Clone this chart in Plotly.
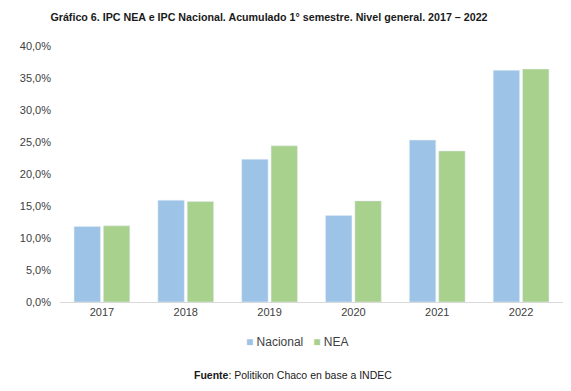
import plotly.graph_objects as go

years = ["2017", "2018", "2019", "2020", "2021", "2022"]
nacional = [11.8, 15.9, 22.3, 13.5, 25.3, 36.2]
nea = [11.9, 15.7, 24.4, 15.8, 23.6, 36.4]
y_ticks = [0, 5, 10, 15, 20, 25, 30, 35, 40]
y_tick_labels = ["0,0%", "5,0%", "10,0%", "15,0%", "20,0%", "25,0%", "30,0%", "35,0%", "40,0%"]
series_names = ["Nacional", "NEA"]
series_colors = ["#9DC3E6", "#A9D18E"]

FONT = "Liberation Sans, Arial, sans-serif"

fig = go.Figure()
fig.add_trace(go.Bar(x=years, y=nacional, name=series_names[0], marker=dict(color=series_colors[0])))
fig.add_trace(go.Bar(x=years, y=nea, name=series_names[1], marker=dict(color=series_colors[1])))

legend_text = "&nbsp;&nbsp;&nbsp;".join(
    f"<span style='color:{c}'>■</span> {n}" for n, c in zip(series_names, series_colors)
)

fig.update_layout(
    width=571, height=391,
    margin=dict(l=60, r=8, t=46, b=89, autoexpand=False),
    paper_bgcolor="white", plot_bgcolor="white",
    barmode="group", bargap=0.3, bargroupgap=0.1,
    showlegend=False,
    font=dict(family=FONT, size=11, color="#404040"),
    title=dict(
        text="<b>Gráfico 6. IPC NEA e IPC Nacional. Acumulado 1° semestre. Nivel general. 2017 – 2022</b>",
        xref="container", x=269 / 571, xanchor="center",
        yref="container", y=1 - 17 / 391, yanchor="middle",
        font=dict(family=FONT, size=10.7, color="#1a1a1a"),
    ),
    xaxis=dict(
        showline=True, linecolor="#d9d9d9", linewidth=1,
        ticks="", showgrid=False, automargin=False,
        tickfont=dict(family=FONT, size=11, color="#404040"),
    ),
    yaxis=dict(
        range=[0, 40], tickvals=y_ticks, ticktext=y_tick_labels,
        showgrid=False, zeroline=False, showline=False, ticks="",
        automargin=False, ticklabelstandoff=8,
        tickfont=dict(family=FONT, size=11, color="#404040"),
    ),
    annotations=[
        dict(
            text=legend_text,
            xref="paper", yref="paper",
            x=(297 - 60) / 503, y=-(342 - 302) / 256,
            xanchor="center", yanchor="middle", showarrow=False,
            font=dict(family=FONT, size=12, color="#404040"),
        ),
        dict(
            text="<b>Fuente</b>: Politikon Chaco en base a INDEC",
            xref="paper", yref="paper",
            x=(293 - 60) / 503, y=-(375 - 302) / 256,
            xanchor="center", yanchor="middle", showarrow=False,
            font=dict(family=FONT, size=10.5, color="#1a1a1a"),
        ),
    ],
)

fig.write_html(
    "out.html",
    config={"displayModeBar": False},
    post_script="document.body.style.margin='0';document.body.style.overflow='hidden';",
)
